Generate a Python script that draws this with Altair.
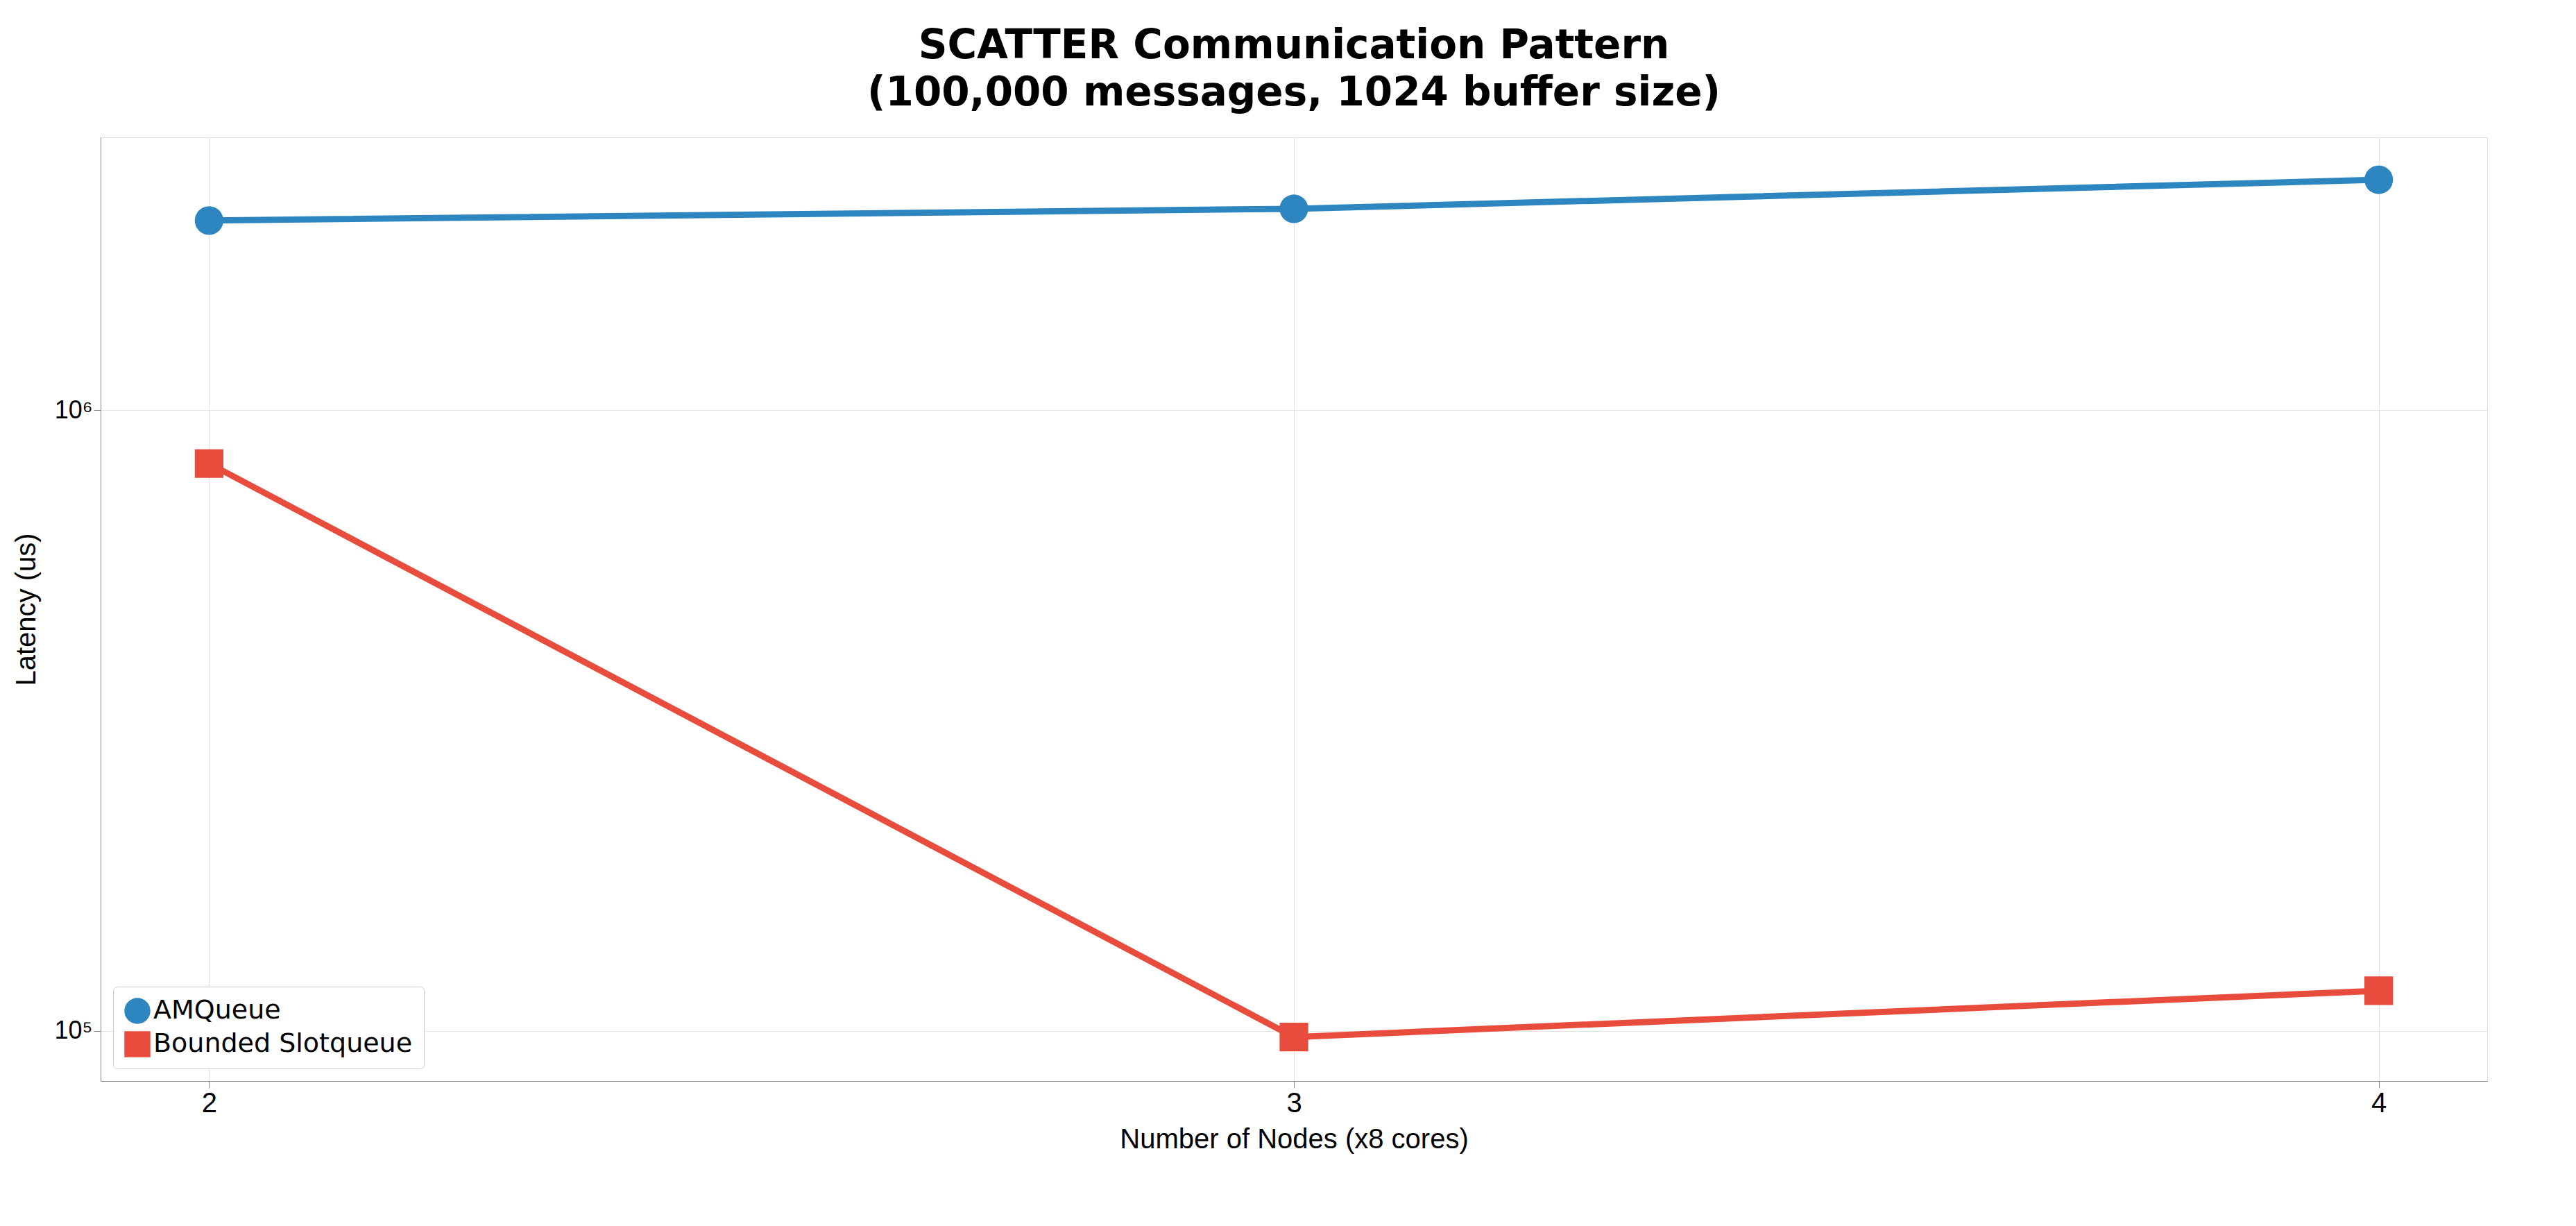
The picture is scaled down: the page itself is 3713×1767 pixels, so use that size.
import pandas as pd
import altair as alt

nodes = [2, 3, 4]
amqueue = [2.02e6, 2.11e6, 2.35e6]
bounded = [8.2e5, 9.77e4, 1.16e5]
series = ["AMQueue", "Bounded Slotqueue"]
colors = ["#2e86c1", "#e74c3c"]

df = pd.concat([
    pd.DataFrame({"nodes": nodes, "latency": amqueue, "series": series[0]}),
    pd.DataFrame({"nodes": nodes, "latency": bounded, "series": series[1]}),
])

color = alt.Color("series:N", scale=alt.Scale(domain=series, range=colors),
                  legend=alt.Legend(title=None, orient="bottom-left", labelFontSize=38,
                                    labelLimit=0, symbolSize=1400, symbolStrokeWidth=0,
                                    strokeColor="#cccccc", fillColor="white",
                                    padding=16, cornerRadius=6, offset=18,
                                    labelFont="DejaVu Sans", rowPadding=10))
shape = alt.Shape("series:N", scale=alt.Scale(domain=series, range=["circle", "square"]), legend=None)

x = alt.X("nodes:Q", title="Number of Nodes (x8 cores)",
          scale=alt.Scale(domain=[1.9, 4.1], nice=False, zero=False),
          axis=alt.Axis(values=nodes, format="d", labelFontSize=40, titleFontSize=40,
                        tickSize=10, gridColor="#e3e3e3", titleFontWeight="normal", titlePadding=12))
y = alt.Y("latency:Q", title="Latency (us)",
          scale=alt.Scale(type="log", domain=[8.3e4, 2.75e6], nice=False),
          axis=alt.Axis(values=[1e5, 1e6], labelFontSize=36, titleFontSize=40, tickSize=10,
                        gridColor="#e3e3e3", titleFontWeight="normal", titlePadding=20,
                        labelExpr="datum.value == 1e5 ? '10⁵' : '10⁶'"))

base = alt.Chart(df).encode(x=x, y=y, color=color)
lines = base.mark_line(strokeWidth=9)
pts = base.mark_point(filled=True, size=1700, opacity=1).encode(shape=shape)

chart = alt.layer(lines, pts).properties(
    width=3440, height=1360,
    padding={"top": 30, "left": 10, "right": 10, "bottom": 10},
    title=alt.Title(["SCATTER Communication Pattern", "(100,000 messages, 1024 buffer size)"],
                    fontSize=58, fontWeight="bold", font="DejaVu Sans", anchor="middle",
                    offset=34, lineHeight=68),
).configure_view(stroke="black", strokeWidth=3, strokeOpacity=1).configure_axis(
    labelFont="DejaVu Sans", titleFont="DejaVu Sans", domain=True, domainColor="black",
    domainWidth=3, labelColor="black", titleColor="black", tickColor="black",
    tickWidth=2.5, labelPadding=8
).configure(background="white")

chart.save("out.html", embed_options={"renderer": "svg", "actions": False})
